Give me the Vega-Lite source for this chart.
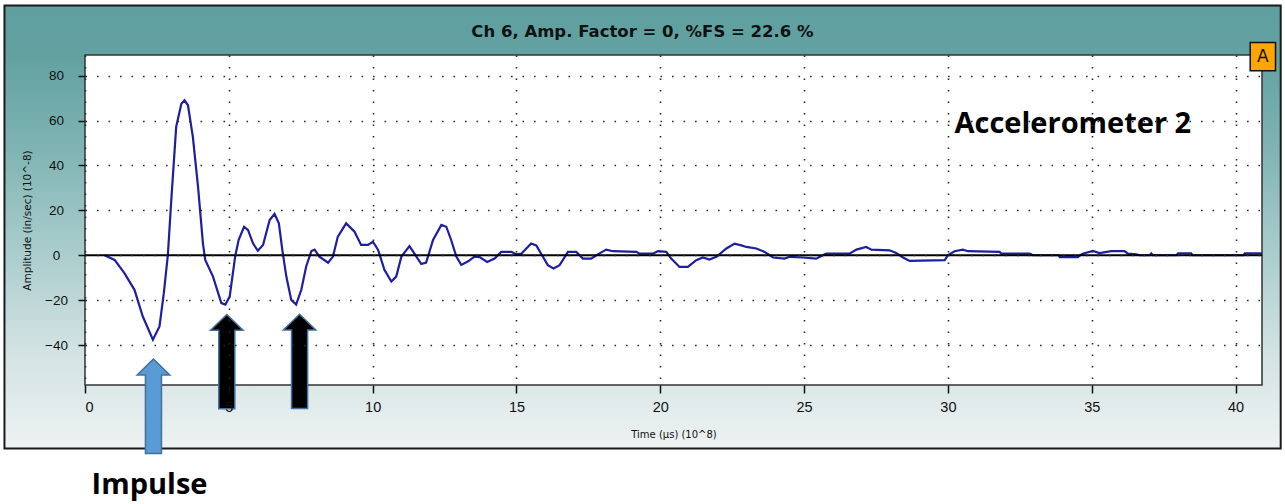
{
  "$schema": "https://vega.github.io/schema/vega-lite/v6.json",
  "width": 1177,
  "height": 330,
  "autosize": {"type": "none"},
  "padding": {"left": 85, "top": 55, "right": 23, "bottom": 119},
  "background": "#ffffff",
  "config": {
    "view": {"stroke": null},
    "axis": {
      "zindex": 1,
      "domain": false,
      "grid": true,
      "gridColor": "#2a2a2a",
      "gridDash": [1.6, 9.9],
      "gridWidth": 1.6,
      "tickColor": "#111111",
      "tickWidth": 1.5,
      "labelColor": "#111111",
      "labelFont": "Liberation Sans",
      "titleFont": "DejaVu Sans",
      "titleColor": "#111111",
      "titleFontWeight": "normal"
    }
  },
  "datasets": {
    "signal": [
      {"t": 0.68, "amp": 0}, {"t": 1.03, "amp": -2.1}, {"t": 1.37, "amp": -8}, {"t": 1.72, "amp": -15.4},
      {"t": 2.01, "amp": -27.3}, {"t": 2.36, "amp": -37.6}, {"t": 2.59, "amp": -31.7}, {"t": 2.74, "amp": -16.9},
      {"t": 2.88, "amp": 0}, {"t": 3.0, "amp": 24.6}, {"t": 3.17, "amp": 57.2}, {"t": 3.35, "amp": 67.5},
      {"t": 3.46, "amp": 69}, {"t": 3.58, "amp": 66.8}, {"t": 3.75, "amp": 52.7}, {"t": 3.93, "amp": 30.5},
      {"t": 4.1, "amp": 5.3}, {"t": 4.18, "amp": -2.1}, {"t": 4.45, "amp": -9.5}, {"t": 4.74, "amp": -21.3},
      {"t": 4.88, "amp": -22}, {"t": 5.03, "amp": -18.4}, {"t": 5.22, "amp": -0.6}, {"t": 5.34, "amp": 6.8},
      {"t": 5.53, "amp": 12.7}, {"t": 5.67, "amp": 11.2}, {"t": 5.84, "amp": 5.3}, {"t": 6.01, "amp": 2},
      {"t": 6.19, "amp": 4.6}, {"t": 6.42, "amp": 15.7}, {"t": 6.59, "amp": 18.4}, {"t": 6.74, "amp": 14.2},
      {"t": 6.86, "amp": 2.4}, {"t": 7.0, "amp": -9.5}, {"t": 7.17, "amp": -19.9}, {"t": 7.34, "amp": -22},
      {"t": 7.52, "amp": -15.4}, {"t": 7.69, "amp": -5}, {"t": 7.87, "amp": 1.9}, {"t": 7.98, "amp": 2.5},
      {"t": 8.15, "amp": -0.6}, {"t": 8.45, "amp": -3.3}, {"t": 8.62, "amp": -0.6}, {"t": 8.79, "amp": 8.3},
      {"t": 9.08, "amp": 14.2}, {"t": 9.37, "amp": 10.5}, {"t": 9.6, "amp": 4.6}, {"t": 9.84, "amp": 4.6},
      {"t": 10.01, "amp": 6}, {"t": 10.19, "amp": 2.4}, {"t": 10.41, "amp": -6.5}, {"t": 10.65, "amp": -11.7},
      {"t": 10.82, "amp": -9.5}, {"t": 11.0, "amp": -0.6}, {"t": 11.28, "amp": 4.1}, {"t": 11.46, "amp": 0.6},
      {"t": 11.69, "amp": -3.9}, {"t": 11.86, "amp": -3.3}, {"t": 12.1, "amp": 6.8}, {"t": 12.39, "amp": 13.5},
      {"t": 12.56, "amp": 12.7}, {"t": 12.73, "amp": 6.8}, {"t": 12.91, "amp": -0.6}, {"t": 13.08, "amp": -4.3},
      {"t": 13.31, "amp": -2.8}, {"t": 13.54, "amp": -0.6}, {"t": 13.72, "amp": -0.8}, {"t": 13.98, "amp": -3.0},
      {"t": 14.24, "amp": -1.5}, {"t": 14.47, "amp": 1.5}, {"t": 14.82, "amp": 1.5}, {"t": 14.99, "amp": 0.4},
      {"t": 15.17, "amp": 0.7}, {"t": 15.51, "amp": 5.2}, {"t": 15.69, "amp": 4.4}, {"t": 15.92, "amp": -0.7},
      {"t": 16.09, "amp": -4.4}, {"t": 16.29, "amp": -5.9}, {"t": 16.5, "amp": -4.4}, {"t": 16.79, "amp": 1.5},
      {"t": 17.08, "amp": 1.5}, {"t": 17.31, "amp": -1.5}, {"t": 17.6, "amp": -1.5}, {"t": 17.83, "amp": 0.4},
      {"t": 18.12, "amp": 2.5}, {"t": 18.35, "amp": 1.8}, {"t": 19.17, "amp": 1.5}, {"t": 19.28, "amp": 0.7},
      {"t": 19.74, "amp": 0.7}, {"t": 19.92, "amp": 1.8}, {"t": 20.21, "amp": 1.5}, {"t": 20.38, "amp": -1.5},
      {"t": 20.67, "amp": -5.2}, {"t": 20.96, "amp": -5.2}, {"t": 21.25, "amp": -2.2}, {"t": 21.48, "amp": -1.0},
      {"t": 21.71, "amp": -1.9}, {"t": 21.95, "amp": -0.7}, {"t": 22.3, "amp": 3.0}, {"t": 22.58, "amp": 5.2},
      {"t": 22.82, "amp": 4.4}, {"t": 22.99, "amp": 3.7}, {"t": 23.34, "amp": 3.0}, {"t": 23.63, "amp": 1.5},
      {"t": 23.92, "amp": -1.0}, {"t": 24.32, "amp": -1.5}, {"t": 24.5, "amp": -0.7}, {"t": 24.96, "amp": -1.0},
      {"t": 25.42, "amp": -1.5}, {"t": 25.65, "amp": 0}, {"t": 25.77, "amp": 0.7}, {"t": 26.58, "amp": 0.7},
      {"t": 26.82, "amp": 2.5}, {"t": 27.16, "amp": 3.7}, {"t": 27.34, "amp": 2.5}, {"t": 27.97, "amp": 2.2},
      {"t": 28.2, "amp": 1.0}, {"t": 28.44, "amp": -1.0}, {"t": 28.67, "amp": -2.5}, {"t": 29.89, "amp": -2.2},
      {"t": 30.0, "amp": 0}, {"t": 30.23, "amp": 1.8}, {"t": 30.52, "amp": 2.5}, {"t": 30.7, "amp": 1.8},
      {"t": 31.8, "amp": 1.5}, {"t": 31.86, "amp": 0.7}, {"t": 32.84, "amp": 0.7}, {"t": 32.96, "amp": 0},
      {"t": 33.85, "amp": 0}, {"t": 33.89, "amp": -0.8}, {"t": 34.52, "amp": -0.8}, {"t": 34.6, "amp": 0},
      {"t": 34.69, "amp": 0.7}, {"t": 35.04, "amp": 1.9}, {"t": 35.27, "amp": 1.0}, {"t": 35.68, "amp": 1.8},
      {"t": 36.14, "amp": 1.8}, {"t": 36.26, "amp": 0.7}, {"t": 36.55, "amp": 0.4}, {"t": 36.67, "amp": 0},
      {"t": 37.02, "amp": 0}, {"t": 37.07, "amp": 0.8}, {"t": 37.12, "amp": 0}, {"t": 37.95, "amp": 0},
      {"t": 38.0, "amp": 0.8}, {"t": 38.46, "amp": 0.8}, {"t": 38.5, "amp": 0}, {"t": 40.28, "amp": 0},
      {"t": 40.32, "amp": 0.8}, {"t": 40.92, "amp": 0.8}
    ]
  },
  "layer": [
    {
      "data": {"values": [{}]},
      "mark": {
        "type": "rect",
        "fill": {
          "gradient": "linear",
          "x1": 0, "y1": 0, "x2": 0, "y2": 1,
          "stops": [
            {"offset": 0, "color": "#5f9f9f"},
            {"offset": 0.124, "color": "#64a2a2"},
            {"offset": 0.327, "color": "#80b4b4"},
            {"offset": 0.55, "color": "#a9cccc"},
            {"offset": 0.777, "color": "#d2e2e2"},
            {"offset": 1, "color": "#eef2f2"}
          ]
        },
        "stroke": "#1b1b1b",
        "strokeWidth": 2
      },
      "encoding": {
        "x": {"datum": -2.8, "type": "quantitative", "scale": {"domain": [0, 40.92], "nice": false, "zero": false}},
        "x2": {"datum": 41.57},
        "y": {"datum": 111.2, "type": "quantitative", "scale": {"domain": [-57.8, 89.2], "nice": false, "zero": false}},
        "y2": {"datum": -86.1}
      }
    },
    {
      "data": {"values": [{}]},
      "mark": {"type": "rect", "fill": "#ffffff", "stroke": "#333333", "strokeWidth": 1.5},
      "encoding": {
        "x": {"datum": 0, "type": "quantitative"},
        "x2": {"datum": 40.92},
        "y": {"datum": -57.8, "type": "quantitative"},
        "y2": {"datum": 89.2}
      }
    },
    {
      "data": {"name": "signal"},
      "mark": {"type": "line", "color": "#1e1ea0", "strokeWidth": 2.2, "interpolate": "linear"},
      "encoding": {
        "x": {
          "field": "t",
          "type": "quantitative",
          "scale": {"domain": [0, 40.92], "nice": false, "zero": false},
          "axis": {
            "zindex": 1,
            "values": [0, 5, 10, 15, 20, 25, 30, 35, 40],
            "title": "Time (µs) (10^8)",
            "titleFontSize": 10,
            "titlePadding": 16,
            "tickSize": 8,
            "labelFontSize": 14.5,
            "labelPadding": 7
          }
        },
        "y": {
          "field": "amp",
          "type": "quantitative",
          "scale": {"domain": [-57.8, 89.2], "nice": false, "zero": false},
          "axis": {
            "zindex": 1,
            "values": [-40, -20, 0, 20, 40, 60, 80],
            "title": "Amplitude (in/sec) (10^-8)",
            "titleFontSize": 10.5,
            "titlePadding": 12,
            "tickSize": 7,
            "labelAlign": "center",
            "labelFontSize": 13.5,
            "labelPadding": 22
          }
        }
      }
    },
    {
      "data": {"values": [{}]},
      "mark": {"type": "rule", "color": "#000000", "strokeWidth": 2},
      "encoding": {"y": {"datum": 0, "type": "quantitative"}}
    },
    {
      "data": {"values": [{}]},
      "mark": {
        "type": "point",
        "shape": "M0,-1L0.345,-0.666L0.17,-0.666L0.17,1L-0.17,1L-0.17,-0.666L-0.345,-0.666Z",
        "size": 8900,
        "filled": true,
        "fill": "#5b9bd5",
        "stroke": "#41719c",
        "strokeWidth": 1.5,
        "opacity": 1
      },
      "encoding": {"x": {"datum": 2.38, "type": "quantitative"}, "y": {"datum": -67.3, "type": "quantitative"}}
    },
    {
      "data": {"values": [{}]},
      "mark": {
        "type": "point",
        "shape": "M0,-1L0.345,-0.666L0.17,-0.666L0.17,1L-0.17,1L-0.17,-0.666L-0.345,-0.666Z",
        "size": 8900,
        "filled": true,
        "fill": "#000000",
        "stroke": "#41719c",
        "strokeWidth": 1.5,
        "opacity": 1
      },
      "encoding": {"x": {"datum": 4.93, "type": "quantitative"}, "y": {"datum": -47.4, "type": "quantitative"}}
    },
    {
      "data": {"values": [{}]},
      "mark": {
        "type": "point",
        "shape": "M0,-1L0.345,-0.666L0.17,-0.666L0.17,1L-0.17,1L-0.17,-0.666L-0.345,-0.666Z",
        "size": 8900,
        "filled": true,
        "fill": "#000000",
        "stroke": "#41719c",
        "strokeWidth": 1.5,
        "opacity": 1
      },
      "encoding": {"x": {"datum": 7.46, "type": "quantitative"}, "y": {"datum": -47.3, "type": "quantitative"}}
    },
    {
      "data": {"values": [{}]},
      "mark": {"type": "rect", "fill": "#ffa500", "stroke": "#111111", "strokeWidth": 1.5},
      "encoding": {
        "x": {"datum": 40.51, "type": "quantitative"},
        "x2": {"datum": 41.39},
        "y": {"datum": 94.8, "type": "quantitative"},
        "y2": {"datum": 82.2}
      }
    },
    {
      "data": {"values": [{}]},
      "mark": {"type": "text", "text": "A", "font": "DejaVu Sans", "fontSize": 17, "color": "#111111", "align": "center", "baseline": "middle"},
      "encoding": {"x": {"datum": 40.95, "type": "quantitative"}, "y": {"datum": 88.3, "type": "quantitative"}}
    },
    {
      "data": {"values": [{}]},
      "mark": {"type": "text", "text": "Ch 6, Amp. Factor = 0, %FS = 22.6 %", "font": "DejaVu Sans", "fontSize": 16.5, "fontWeight": "bold", "color": "#111111", "align": "center", "baseline": "alphabetic"},
      "encoding": {"x": {"datum": 19.38, "type": "quantitative"}, "y": {"datum": 97.3, "type": "quantitative"}}
    },
    {
      "data": {"values": [{}]},
      "mark": {"type": "text", "text": "Accelerometer 2", "font": "Open Sans", "fontSize": 29, "fontWeight": "bold", "color": "#000000", "align": "left", "baseline": "alphabetic"},
      "encoding": {"x": {"datum": 30.23, "type": "quantitative"}, "y": {"datum": 54.4, "type": "quantitative"}}
    },
    {
      "data": {"values": [{}]},
      "mark": {"type": "text", "text": "Impulse", "font": "Open Sans", "fontSize": 29, "fontWeight": "bold", "color": "#000000", "align": "left", "baseline": "alphabetic"},
      "encoding": {"x": {"datum": 0.23, "type": "quantitative"}, "y": {"datum": -106.5, "type": "quantitative"}}
    }
  ]
}
